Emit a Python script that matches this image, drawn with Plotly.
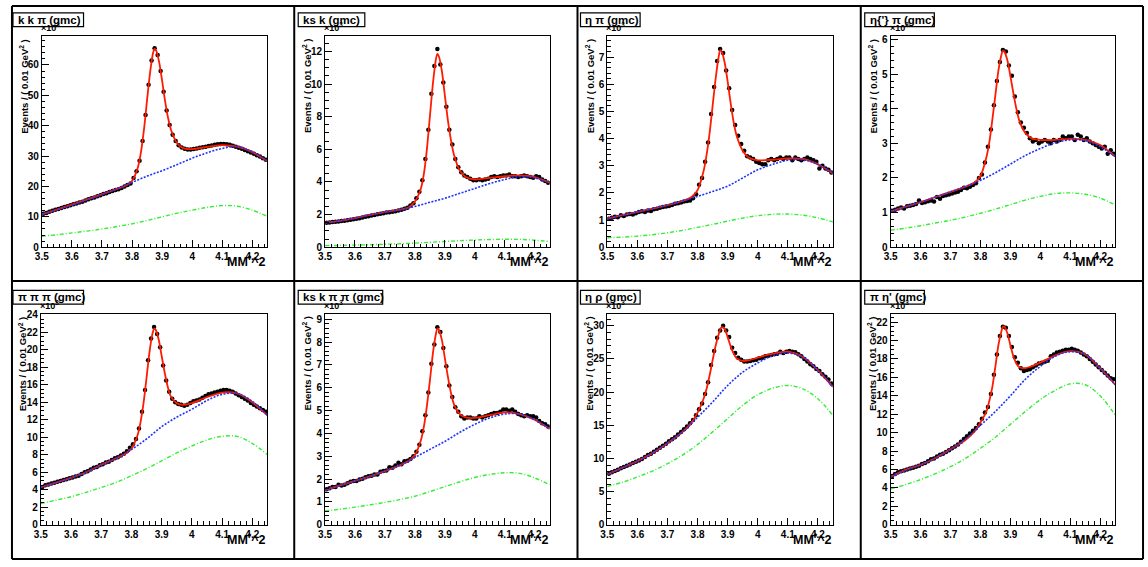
import plotly.graph_objects as go

W, H = 1148, 567

# ---------------- data (values in units of 10^3 events / 0.01 GeV^2) ----------------
titles = ["k k π (gmc)", "ks k (gmc)", "η π (gmc)", "η{'} π (gmc)",
          "π π π (gmc)", "ks k π π (gmc)", "η ρ (gmc)", "π η' (gmc)"]

bin_x = [3.505, 3.515, 3.525, 3.535, 3.545, 3.555, 3.565, 3.575, 3.585, 3.595,
         3.605, 3.615, 3.625, 3.635, 3.645, 3.655, 3.665, 3.675, 3.685, 3.695,
         3.705, 3.715, 3.725, 3.735, 3.745, 3.755, 3.765, 3.775, 3.785, 3.795,
         3.805, 3.815, 3.825, 3.835, 3.845, 3.855, 3.865, 3.875, 3.885, 3.895,
         3.905, 3.915, 3.925, 3.935, 3.945, 3.955, 3.965, 3.975, 3.985, 3.995,
         4.005, 4.015, 4.025, 4.035, 4.045, 4.055, 4.065, 4.075, 4.085, 4.095,
         4.105, 4.115, 4.125, 4.135, 4.145, 4.155, 4.165, 4.175, 4.185, 4.195,
         4.205, 4.215, 4.225, 4.235, 4.245]

fit_x = [3.50, 3.55, 3.60, 3.65, 3.70, 3.75, 3.78, 3.80, 3.82, 3.83, 3.84, 3.85,
         3.86, 3.87, 3.875, 3.88, 3.89, 3.90, 3.91, 3.92, 3.93, 3.95, 3.97, 4.00,
         4.05, 4.10, 4.15, 4.20, 4.25]

curve_x = [3.50, 3.55, 3.60, 3.65, 3.70, 3.75, 3.80, 3.85, 3.90, 3.95, 4.00,
           4.05, 4.10, 4.15, 4.20, 4.25]

data_kkpi = [11.0, 11.3, 11.7, 12.0, 12.3, 12.6, 12.9, 13.2, 13.5, 13.8,
             14.1, 14.4, 14.7, 15.0, 15.4, 15.8, 16.1, 16.4, 16.8, 17.1,
             17.5, 17.8, 18.2, 18.5, 18.8, 19.1, 19.5, 20.0, 20.5, 21.0,
             22.8, 25.0, 28.5, 35.0, 43.5, 53.5, 61.5, 65.5, 63.3, 58.0,
             51.2, 45.0, 40.2, 37.0, 35.0, 33.6, 32.8, 32.4, 32.2, 32.2,
             32.3, 32.5, 32.7, 32.9, 33.1, 33.3, 33.5, 33.7, 33.9, 34.0,
             34.0, 33.9, 33.7, 33.4, 33.1, 32.7, 32.4, 32.0, 31.6, 31.2,
             30.8, 30.3, 29.9, 29.3, 28.8]
fit_kkpi = [10.8, 12.4, 14.0, 15.7, 17.4, 19.2, 20.3, 21.8, 26.5, 31.5, 39.0, 48.5,
            57.5, 64.0, 65.3, 64.8, 61.0, 54.8, 48.0, 42.5, 38.5, 34.2, 32.6, 32.3,
            33.0, 33.6, 33.1, 31.3, 28.3]
bkg_kkpi = [10.8, 12.3, 13.8, 15.5, 17.3, 19.2, 21.3, 23.4, 25.2, 27.2, 29.3,
            31.1, 32.5, 33.1, 31.3, 28.3]
sig_kkpi = [3.6, 4.1, 4.7, 5.3, 6.0, 6.8, 7.7, 8.8, 10.0, 11.2, 12.2,
            13.1, 13.7, 13.5, 12.2, 10.1]

data_ksk = [1.50, 1.52, 1.55, 1.56, 1.58, 1.60, 1.62, 1.65, 1.68, 1.72,
            1.75, 1.78, 1.82, 1.86, 1.90, 1.95, 1.98, 2.02, 2.05, 2.08,
            2.12, 2.15, 2.17, 2.20, 2.25, 2.30, 2.36, 2.42, 2.55, 2.70,
            3.00, 3.40, 4.10, 5.40, 7.20, 9.40, 11.10, 12.15, 11.20, 10.10,
            8.60, 7.20, 6.30, 5.40, 4.90, 4.60, 4.40, 4.30, 4.20, 4.10,
            4.10, 4.15, 4.10, 4.15, 4.20, 4.30, 4.35, 4.30, 4.35, 4.40,
            4.40, 4.45, 4.35, 4.35, 4.30, 4.35, 4.40, 4.35, 4.30, 4.25,
            4.35, 4.30, 4.15, 4.05, 3.95]
fit_ksk = [1.50, 1.62, 1.78, 1.98, 2.15, 2.30, 2.45, 2.80, 3.60, 4.50, 6.00, 8.00,
           10.00, 11.50, 11.85, 11.70, 10.80, 9.30, 7.80, 6.60, 5.70, 4.70, 4.30, 4.15,
           4.25, 4.35, 4.40, 4.30, 3.95]
bkg_ksk = [1.50, 1.62, 1.78, 1.98, 2.15, 2.30, 2.50, 2.75, 3.00, 3.30, 3.60,
           3.90, 4.15, 4.33, 4.25, 3.95]
sig_ksk = [0.10, 0.11, 0.13, 0.15, 0.18, 0.21, 0.25, 0.30, 0.35, 0.40, 0.44,
           0.47, 0.49, 0.48, 0.43, 0.35]

data_etapi = [1.05, 1.08, 1.12, 1.10, 1.18, 1.15, 1.20, 1.22, 1.20, 1.25,
              1.30, 1.32, 1.30, 1.35, 1.33, 1.40, 1.42, 1.45, 1.48, 1.50,
              1.52, 1.55, 1.60, 1.62, 1.65, 1.68, 1.70, 1.72, 1.80, 1.95,
              2.30, 2.55, 3.15, 3.85, 4.90, 5.90, 6.85, 7.30, 7.15, 6.50,
              5.85, 5.05, 4.50, 4.10, 3.80, 3.55, 3.35, 3.30, 3.25, 3.15,
              3.10, 3.05, 3.05, 3.20, 3.25, 3.20, 3.25, 3.30, 3.25, 3.30,
              3.30, 3.20, 3.30, 3.25, 3.20, 3.25, 3.30, 3.25, 3.20, 3.15,
              2.90, 3.00, 2.90, 2.85, 2.75]
fit_etapi = [1.05, 1.18, 1.30, 1.42, 1.55, 1.70, 1.85, 2.10, 2.80, 3.40, 4.20, 5.20,
             6.20, 7.00, 7.25, 7.20, 6.80, 6.10, 5.30, 4.60, 4.10, 3.55, 3.30, 3.20,
             3.22, 3.27, 3.25, 3.05, 2.72]
bkg_etapi = [1.05, 1.18, 1.30, 1.42, 1.55, 1.70, 1.87, 2.05, 2.25, 2.55, 2.85,
             3.05, 3.20, 3.22, 3.05, 2.72]
sig_etapi = [0.35, 0.37, 0.41, 0.46, 0.53, 0.62, 0.73, 0.84, 0.96, 1.07, 1.16,
             1.21, 1.22, 1.18, 1.08, 0.93]

data_etappi = [1.05, 1.08, 1.12, 1.15, 1.12, 1.18, 1.20, 1.22, 1.25, 1.35,
               1.28, 1.30, 1.33, 1.35, 1.32, 1.45, 1.40, 1.48, 1.50, 1.52,
               1.55, 1.58, 1.60, 1.65, 1.72, 1.70, 1.75, 1.80, 1.85, 2.00,
               2.10, 2.45, 2.90, 3.40, 4.10, 4.80, 5.35, 5.70, 5.65, 5.25,
               4.95, 4.35, 3.90, 3.60, 3.45, 3.30, 3.15, 3.05, 3.10, 3.00,
               3.05, 3.10, 3.05, 3.00, 3.10, 3.05, 3.10, 3.20, 3.15, 3.20,
               3.20, 3.10, 3.25, 3.20, 3.10, 3.15, 3.05, 3.00, 2.95, 2.90,
               2.85, 2.90, 2.70, 2.80, 2.70]
fit_etappi = [1.03, 1.17, 1.30, 1.45, 1.60, 1.75, 1.87, 2.05, 2.60, 3.05, 3.70, 4.40,
              5.10, 5.55, 5.68, 5.65, 5.40, 4.95, 4.45, 4.00, 3.65, 3.30, 3.15, 3.10,
              3.10, 3.13, 3.10, 2.95, 2.62]
bkg_etappi = [1.03, 1.17, 1.30, 1.45, 1.60, 1.75, 1.93, 2.15, 2.40, 2.65, 2.85,
              3.02, 3.10, 3.08, 2.90, 2.62]
sig_etappi = [0.49, 0.55, 0.62, 0.70, 0.78, 0.87, 0.98, 1.10, 1.23, 1.36, 1.47,
              1.55, 1.57, 1.53, 1.42, 1.22]

data_3pi = [4.3, 4.5, 4.6, 4.7, 4.8, 4.9, 5.0, 5.1, 5.2, 5.3,
            5.4, 5.5, 5.6, 5.8, 6.0, 6.1, 6.3, 6.5, 6.6, 6.8,
            6.9, 7.1, 7.2, 7.4, 7.6, 7.7, 7.9, 8.1, 8.4, 8.8,
            9.2, 9.8, 11.0, 12.9, 15.4, 18.8, 21.3, 22.6, 21.8, 20.3,
            18.2, 16.5, 15.2, 14.4, 14.0, 13.8, 13.7, 13.6, 13.7, 13.9,
            14.1, 14.2, 14.3, 14.5, 14.7, 14.9, 15.0, 15.1, 15.2, 15.3,
            15.4, 15.4, 15.3, 15.2, 15.0, 14.8, 14.6, 14.4, 14.2, 13.9,
            13.7, 13.5, 13.3, 13.1, 12.9]
fit_3pi = [4.3, 4.8, 5.35, 6.0, 6.85, 7.6, 8.1, 8.7, 10.2, 11.7, 13.9, 16.8,
           19.8, 21.9, 22.4, 22.3, 21.2, 19.3, 17.4, 15.8, 14.7, 13.9, 13.7, 13.9,
           14.6, 15.1, 15.0, 14.0, 12.5]
bkg_3pi = [4.3, 4.8, 5.35, 6.0, 6.8, 7.6, 8.6, 9.8, 11.2, 12.3, 13.2,
           14.2, 14.9, 15.0, 14.1, 12.5]
sig_3pi = [2.43, 2.8, 3.2, 3.7, 4.25, 4.85, 5.6, 6.4, 7.3, 8.2, 9.0,
           9.7, 10.1, 10.1, 9.3, 8.0]

data_kskpipi = [1.55, 1.60, 1.65, 1.65, 1.75, 1.72, 1.75, 1.82, 1.88, 1.92,
                1.92, 1.98, 2.02, 2.08, 2.12, 2.15, 2.20, 2.20, 2.32, 2.35,
                2.38, 2.52, 2.50, 2.60, 2.72, 2.65, 2.78, 2.80, 2.88, 3.00,
                3.20, 3.50, 4.10, 4.80, 5.80, 7.05, 7.90, 8.65, 8.45, 7.75,
                6.95, 6.10, 5.60, 5.15, 4.95, 4.75, 4.65, 4.70, 4.70, 4.65,
                4.65, 4.75, 4.70, 4.75, 4.80, 4.85, 4.90, 4.90, 4.95, 5.05,
                5.05, 5.00, 5.05, 4.95, 4.85, 4.80, 4.75, 4.80, 4.75, 4.75,
                4.70, 4.55, 4.45, 4.40, 4.30]
fit_kskpipi = [1.52, 1.72, 1.92, 2.12, 2.35, 2.60, 2.80, 3.05, 3.70, 4.30, 5.20, 6.30,
               7.50, 8.35, 8.60, 8.55, 8.10, 7.30, 6.50, 5.80, 5.30, 4.85, 4.70, 4.68,
               4.80, 4.92, 4.85, 4.60, 4.20]
bkg_kskpipi = [1.52, 1.72, 1.92, 2.12, 2.35, 2.60, 2.95, 3.30, 3.65, 4.05, 4.40,
               4.68, 4.85, 4.85, 4.60, 4.20]
sig_kskpipi = [0.60, 0.68, 0.77, 0.87, 0.98, 1.10, 1.25, 1.45, 1.67, 1.88, 2.07,
               2.20, 2.28, 2.25, 2.05, 1.75]

data_etarho = [7.7, 7.9, 8.1, 8.3, 8.5, 8.7, 8.9, 9.1, 9.3, 9.5,
               9.7, 9.9, 10.2, 10.5, 10.7, 11.0, 11.3, 11.6, 11.9, 12.2,
               12.6, 12.9, 13.2, 13.6, 14.0, 14.4, 14.8, 15.3, 15.8, 16.5,
               17.4, 18.3, 19.7, 21.5, 24.1, 26.2, 28.2, 29.3, 30.0, 29.3,
               28.3, 26.7, 25.9, 25.2, 24.9, 24.6, 24.6, 24.7, 24.8, 24.9,
               25.1, 25.2, 25.4, 25.5, 25.6, 25.7, 25.8, 26.1, 25.9, 26.1,
               26.2, 26.1, 26.0, 25.7, 25.4, 25.0, 24.6, 24.2, 23.9, 23.5,
               23.2, 22.7, 22.3, 21.9, 21.3]
fit_etarho = [7.6, 8.6, 9.6, 10.8, 12.3, 14.0, 15.4, 16.9, 19.0, 20.5, 22.5, 24.8,
              27.0, 28.7, 29.4, 29.8, 29.5, 28.3, 26.9, 25.8, 25.1, 24.7, 24.8, 25.2,
              25.8, 26.1, 25.3, 23.3, 20.8]
bkg_etarho = [7.6, 8.6, 9.6, 10.8, 12.3, 14.0, 16.2, 18.5, 21.0, 23.0, 24.4,
              25.5, 25.9, 25.3, 23.3, 20.8]
sig_etarho = [5.77, 6.4, 7.2, 8.1, 9.2, 10.5, 12.1, 14.0, 16.0, 18.0, 19.6,
              20.6, 21.0, 20.5, 19.0, 16.5]

data_pietap = [5.3, 5.5, 5.7, 5.8, 5.9, 6.0, 6.1, 6.2, 6.3, 6.4,
               6.6, 6.7, 6.9, 7.1, 7.2, 7.4, 7.6, 7.7, 7.9, 8.1,
               8.3, 8.5, 8.7, 9.0, 9.3, 9.6, 9.9, 10.2, 10.5, 10.9,
               11.5, 12.2, 12.8, 14.2, 16.3, 18.5, 20.5, 21.5, 21.4, 20.5,
               19.3, 18.2, 17.6, 17.0, 16.7, 16.8, 16.9, 17.1, 17.3, 17.5,
               17.6, 17.7, 17.8, 18.3, 18.5, 18.7, 18.8, 18.9, 19.0, 19.0,
               19.1, 19.0, 18.9, 18.7, 18.5, 18.3, 18.0, 17.7, 17.4, 17.1,
               16.8, 16.5, 16.2, 15.9, 15.8]
fit_pietap = [5.2, 5.95, 6.5, 7.25, 8.2, 9.2, 10.1, 11.1, 12.3, 13.5, 15.0, 17.2,
              19.5, 21.0, 21.5, 21.5, 20.8, 19.5, 18.3, 17.5, 17.1, 17.0, 17.2, 17.6,
              18.4, 18.85, 18.5, 17.0, 15.2]
bkg_pietap = [5.2, 5.9, 6.5, 7.25, 8.2, 9.3, 10.8, 12.3, 14.0, 15.8, 17.2,
              18.3, 18.8, 18.5, 17.0, 15.2]
sig_pietap = [3.9, 4.35, 4.9, 5.55, 6.3, 7.2, 8.3, 9.5, 10.9, 12.3, 13.6,
              14.6, 15.3, 15.2, 14.0, 11.9]

x_tick_vals = [3.5, 3.6, 3.7, 3.8, 3.9, 4.0, 4.1, 4.2]
x_tick_text = ["3.5", "3.6", "3.7", "3.8", "3.9", "4", "4.1", "4.2"]

y_max = [69.4, 12.92, 7.76, 6.09, 24.1, 9.24, 31.8, 22.9]
y_dtick = [10, 2, 1, 1, 2, 1, 5, 2]

panels = [
    (data_kkpi, fit_kkpi, bkg_kkpi, sig_kkpi),
    (data_ksk, fit_ksk, bkg_ksk, sig_ksk),
    (data_etapi, fit_etapi, bkg_etapi, sig_etapi),
    (data_etappi, fit_etappi, bkg_etappi, sig_etappi),
    (data_3pi, fit_3pi, bkg_3pi, sig_3pi),
    (data_kskpipi, fit_kskpipi, bkg_kskpipi, sig_kskpipi),
    (data_etarho, fit_etarho, bkg_etarho, sig_etarho),
    (data_pietap, fit_pietap, bkg_pietap, sig_pietap),
]

# ---------------- layout geometry (pixels) ----------------
frames = [(35, 262, 32, 247), (320, 546, 32, 247), (604, 831, 32, 247), (889, 1115, 32, 247),
          (34, 262, 315, 530), (320, 546, 315, 530), (604, 831, 315, 530), (889, 1115, 315, 530)]
boxes = [(6, 77, 8, 22), (293, 360, 8, 22), (577, 637, 8, 22), (863, 933, 8, 22),
         (6, 77, 291, 305), (293, 378, 291, 305), (577, 637, 291, 305), (863, 923, 291, 305)]


def PX(px):
    return px / W


def PY(py):
    return 1 - py / H


FONT = "Liberation Sans, Arial, Helvetica, sans-serif"

fig = go.Figure()
layout = dict(width=W, height=H, margin=dict(l=0, r=0, t=0, b=0),
              paper_bgcolor="white", plot_bgcolor="white", showlegend=False)
shapes = []
annotations = []

for i, (data, fit, bkg, sig) in enumerate(panels):
    n = i + 1
    xa = "x" if n == 1 else f"x{n}"
    ya = "y" if n == 1 else f"y{n}"
    L, R, T, B = frames[i]
    fig.add_trace(go.Scatter(
        x=bin_x, y=data, mode="markers", xaxis=xa, yaxis=ya,
        marker=dict(color="black", size=4.5, symbol="circle"),
        error_x=dict(type="constant", value=0.005, thickness=1, width=0, color="black"),
        hoverinfo="skip"))
    fig.add_trace(go.Scatter(
        x=fit_x, y=fit, mode="lines", xaxis=xa, yaxis=ya,
        line=dict(color="#ff1a00", width=1.8, shape="spline", smoothing=0.8)))
    fig.add_trace(go.Scatter(
        x=curve_x, y=bkg, mode="lines", xaxis=xa, yaxis=ya,
        line=dict(color="#1a33ff", width=1.6, dash="2px,1.5px", shape="spline")))
    fig.add_trace(go.Scatter(
        x=curve_x, y=sig, mode="lines", xaxis=xa, yaxis=ya,
        line=dict(color="#33ee33", width=1.4, dash="4px,2px,1px,2px", shape="spline")))

    xkey = "xaxis" if n == 1 else f"xaxis{n}"
    ykey = "yaxis" if n == 1 else f"yaxis{n}"
    layout[xkey] = dict(
        domain=[PX(L), PX(R)], anchor=ya, range=[3.5, 4.25],
        tickmode="array", tickvals=x_tick_vals, ticktext=x_tick_text,
        ticks="inside", ticklen=7, tickwidth=1, tickcolor="black",
        minor=dict(ticks="inside", ticklen=3.5, tick0=3.5, dtick=0.02, tickcolor="black"),
        showline=True, linecolor="black", linewidth=1, mirror=True,
        showgrid=False, zeroline=False,
        tickfont=dict(family=FONT, size=10, color="black", weight="bold"))
    dt = y_dtick[i]
    layout[ykey] = dict(
        domain=[PY(B), PY(T)], anchor=xa, range=[0, y_max[i]],
        tickmode="linear", tick0=0, dtick=dt,
        ticks="inside", ticklen=7, tickwidth=1, tickcolor="black",
        minor=dict(ticks="inside", ticklen=3.5, tick0=0, dtick=dt / (4 if dt == 2 else 5),
                   tickcolor="black"),
        showline=True, linecolor="black", linewidth=1, mirror=True,
        showgrid=False, zeroline=False,
        tickfont=dict(family=FONT, size=10, color="black", weight="bold"))

    # title box
    bx0, bx1, by0, by1 = boxes[i]
    shapes.append(dict(type="rect", xref="paper", yref="paper",
                       x0=PX(bx0), x1=PX(bx1), y0=PY(by1), y1=PY(by0),
                       line=dict(color="black", width=1.2), fillcolor="white", layer="above"))
    annotations.append(dict(xref="paper", yref="paper", x=PX(bx0 + 3), y=PY((by0 + by1) / 2),
                            xanchor="left", yanchor="middle", showarrow=False, text=titles[i],
                            font=dict(family=FONT, size=11.5, color="black", weight="bold")))
    # x10^3
    annotations.append(dict(xref="paper", yref="paper", x=PX(L - 3), y=PY(T - 1),
                            xanchor="left", yanchor="bottom", showarrow=False,
                            text="×10<sup>3</sup>",
                            font=dict(family=FONT, size=9, color="black", weight="bold")))
    # y title
    annotations.append(dict(xref="paper", yref="paper", x=PX(L - 18), y=PY(T),
                            xanchor="center", yanchor="top", showarrow=False, textangle=-90,
                            text="Events / ( 0.01 GeV<sup>2</sup> )",
                            font=dict(family=FONT, size=9.5, color="black", weight="bold")))
    # x title
    annotations.append(dict(xref="paper", yref="paper", x=PX(R + 1), y=PY(B + 4),
                            xanchor="right", yanchor="top", showarrow=False,
                            text="MM<sup>*</sup>^2",
                            font=dict(family=FONT, size=12.5, color="black", weight="bold")))

# pad borders
for xv in [5, 289, 574, 859, 1143]:
    shapes.append(dict(type="line", xref="paper", yref="paper", x0=PX(xv), x1=PX(xv),
                       y0=PY(565), y1=PY(1), line=dict(color="black", width=2), layer="above"))
for yv in [1, 281.5, 565]:
    shapes.append(dict(type="line", xref="paper", yref="paper", x0=PX(5), x1=PX(1143),
                       y0=PY(yv), y1=PY(yv), line=dict(color="black", width=2), layer="above"))

layout["shapes"] = shapes
layout["annotations"] = annotations
fig.update_layout(**layout)
fig.write_html(
    "out.html",
    config={"displayModeBar": False, "staticPlot": True},
    post_script=("document.documentElement.style.margin='0px';"
                 "document.body.style.margin='0px';document.body.style.padding='0px';"
                 "document.body.style.overflow='hidden';"
                 "var d=document.getElementById('{plot_id}');"
                 "d.style.position='fixed';d.style.left='0px';d.style.top='0px';"))
